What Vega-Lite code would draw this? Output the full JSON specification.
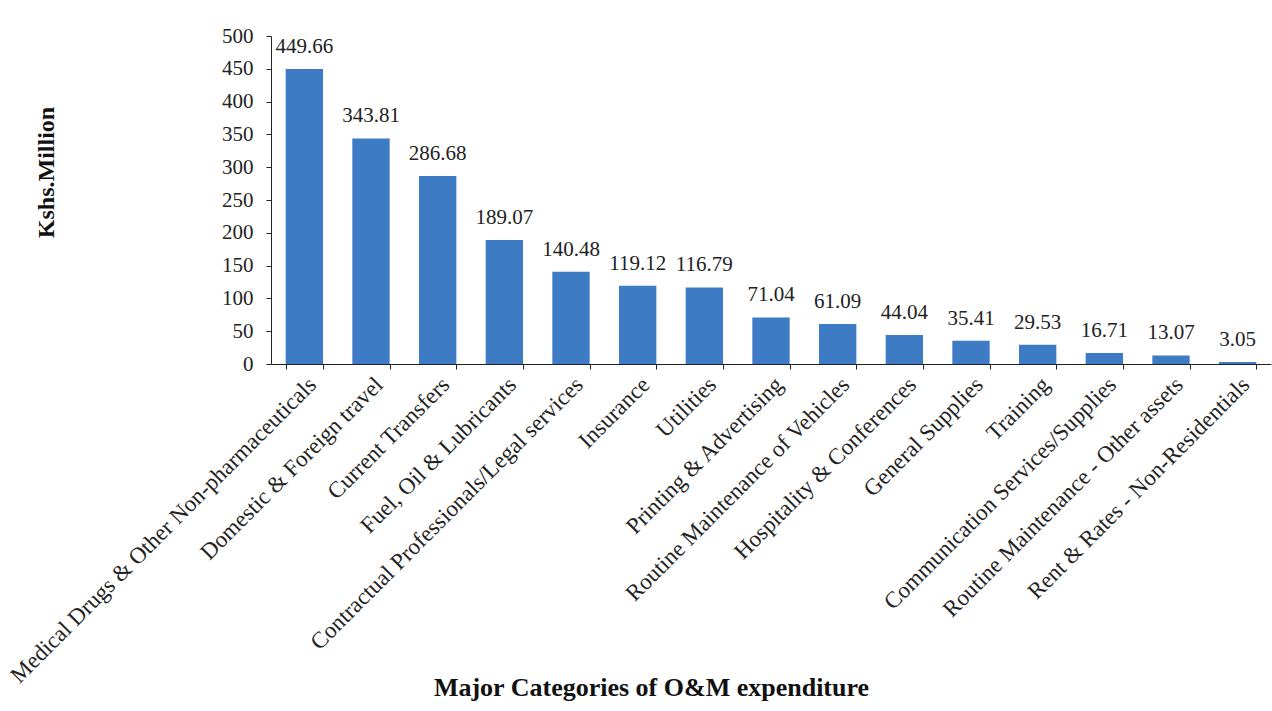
{
  "$schema": "https://vega.github.io/schema/vega-lite/v6.json",
  "width": 1000,
  "height": 328,
  "autosize": {"type": "none"},
  "padding": {"left": 271, "top": 36, "right": 1, "bottom": 347},
  "background": "white",
  "config": {
    "view": {"stroke": null},
    "font": "Liberation Serif",
    "axis": {"grid": false, "domainColor": "#222", "tickColor": "#222", "labelColor": "#222", "titleColor": "#111", "labelFont": "Liberation Serif", "titleFont": "Liberation Serif"}
  },
  "data": {
    "values": [
      {"category": "Medical Drugs & Other Non-pharmaceuticals", "value": 449.66},
      {"category": "Domestic & Foreign travel", "value": 343.81},
      {"category": "Current Transfers", "value": 286.68},
      {"category": "Fuel, Oil & Lubricants", "value": 189.07},
      {"category": "Contractual Professionals/Legal services", "value": 140.48},
      {"category": "Insurance", "value": 119.12},
      {"category": "Utilities", "value": 116.79},
      {"category": "Printing & Advertising", "value": 71.04},
      {"category": "Routine Maintenance of Vehicles", "value": 61.09},
      {"category": "Hospitality & Conferences", "value": 44.04},
      {"category": "General Supplies", "value": 35.41},
      {"category": "Training", "value": 29.53},
      {"category": "Communication Services/Supplies", "value": 16.71},
      {"category": "Routine Maintenance - Other assets", "value": 13.07},
      {"category": "Rent & Rates - Non-Residentials", "value": 3.05}
    ]
  },
  "encoding": {
    "x": {
      "field": "category",
      "type": "nominal",
      "sort": null,
      "scale": {"paddingInner": 0.44, "paddingOuter": 0.22},
      "axis": {
        "title": "Major Categories of O&M expenditure",
        "titleFontSize": 26,
        "titleFontWeight": "bold",
        "titleX": 380,
        "titleY": 331,
        "titleBaseline": "alphabetic",
        "labelAngle": -45,
        "labelFontSize": 23,
        "labelPadding": 4,
        "labelLimit": 0,
        "tickBand": "extent",
        "tickSize": 5,
        "labelOverlap": false
      }
    },
    "y": {
      "field": "value",
      "type": "quantitative",
      "scale": {"domain": [0, 500]},
      "axis": {
        "title": "Kshs.Million",
        "titleFontSize": 24,
        "titleFontWeight": "bold",
        "titleX": -218,
        "titleY": 136,
        "titleAngle": -90,
        "titleAlign": "center",
        "titleBaseline": "alphabetic",
        "values": [0, 50, 100, 150, 200, 250, 300, 350, 400, 450, 500],
        "labelFontSize": 21,
        "labelPadding": 13,
        "tickSize": 5
      }
    }
  },
  "layer": [
    {"mark": {"type": "bar", "color": "#3d7cc4"}},
    {
      "mark": {"type": "text", "baseline": "alphabetic", "dy": -16, "fontSize": 21, "color": "#222", "font": "Liberation Serif"},
      "encoding": {"text": {"field": "value", "type": "quantitative", "format": ".2f"}}
    }
  ]
}
